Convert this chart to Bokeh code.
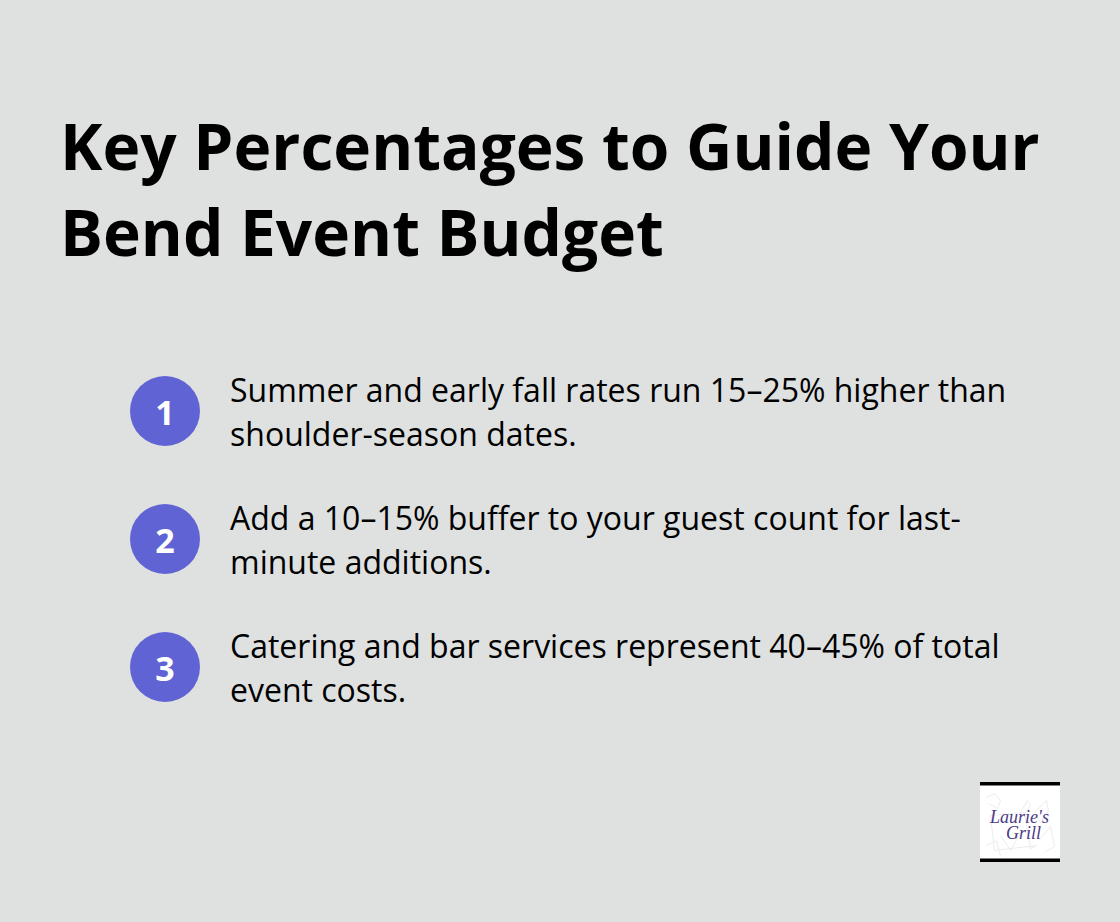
from bokeh.plotting import figure
from bokeh.models import Range1d
from bokeh.core.properties import value
from bokeh.embed import file_html
from bokeh.resources import INLINE

title_lines = ["Key Percentages to Guide Your", "Bend Event Budget"]
step_numbers = ["1", "2", "3"]
step_lines = [
    ["Summer and early fall rates run 15–25% higher than", "shoulder-season dates."],
    ["Add a 10–15% buffer to your guest count for last-", "minute additions."],
    ["Catering and bar services represent 40–45% of total", "event costs."],
]
logo_words = ["Laurie's", "Grill"]

BG = "#dfe1e0"
W, H = 1104, 906
p = figure(width=W, height=H, output_backend="svg", toolbar_location=None,
           x_range=Range1d(0, W), y_range=Range1d(H, 0),
           background_fill_color=BG, border_fill_color=BG, outline_line_color=None,
           min_border=0, x_axis_location=None, y_axis_location=None)
p.grid.visible = False
p.axis.visible = False

FONT = value("Open Sans")
for i, line in enumerate(title_lines):
    p.text([59.5], [145 + i * 85.5], text=[line], text_font=FONT, text_font_size="64px",
           text_font_style="bold", text_color="#000000", text_baseline="alphabetic")

for i, (num, lines) in enumerate(zip(step_numbers, step_lines)):
    cy = 410.5 + i * 128
    p.circle([164.5], [cy], radius=35, fill_color="#6063d3", line_color=None)
    p.text([164.5], [cy + 1.5], text=[num], text_font=FONT, text_font_size="34px", text_font_style="bold",
           text_color="#ffffff", text_align="center", text_baseline="middle")
    for j, line in enumerate(lines):
        p.text([229.5], [cy - 21.5 + j * 44], text=[line], text_font=FONT, text_font_size="32px",
               text_color="#000000", text_baseline="alphabetic")

# logo
p.quad(left=[979.5], right=[1059.5], top=[781.5], bottom=[861.5], fill_color="#ffffff", line_color=None)
p.quad(left=[979.5, 979.5], right=[1059.5, 1059.5], top=[781.5, 858], bottom=[785, 861.5],
       fill_color="#000000", line_color=None)
sketch_x = [[986, 994, 1000, 997, 988], [1022, 1030, 1027, 1020], [1034, 1046, 1048, 1040, 1036],
            [990, 1024, 1030, 1036, 994, 990], [986, 996, 1000], [1040, 1050, 1054, 1044], [1000, 1010, 1020]]
sketch_y = [[797, 793, 800, 808, 803], [816, 805, 800, 812], [812, 800, 810, 822, 815],
            [815, 812, 848, 845, 850, 815], [845, 840, 856], [838, 826, 846, 852], [835, 850, 832]]
p.multi_line(sketch_x, sketch_y, line_color="#ececec", line_width=1)
word_x = [1019, 1023]
word_y = [816, 832]
for k, word in enumerate(logo_words):
    p.text([word_x[k]], [word_y[k]], text=[word], text_font=value("Liberation Serif"),
           text_font_size="18px", text_font_style="italic", text_color="#4b3a86",
           text_align="center", text_baseline="alphabetic")

html = file_html(p, INLINE).replace("</head>", f"<style>html,body{{background:{BG};}}</style></head>")
open("out.html", "w").write(html)
